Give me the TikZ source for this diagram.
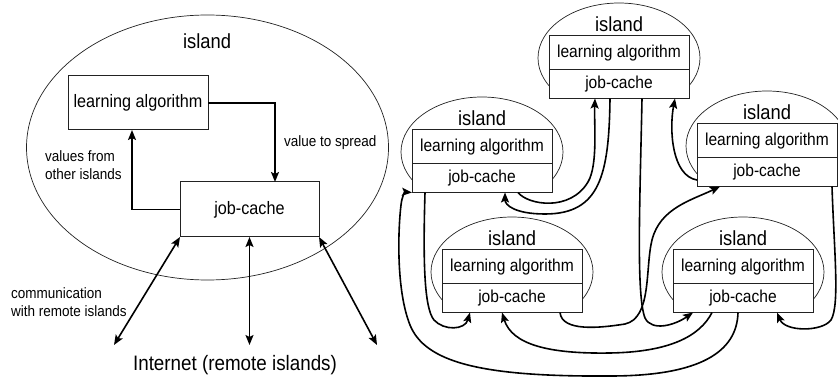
\documentclass[tikz,border=0pt]{standalone}
\usepackage{fontspec}
\setmainfont{Liberation Sans}[FakeStretch=0.9]
\usepackage{tikz}
\usetikzlibrary{positioning,arrows.meta}
\definecolor{ink}{HTML}{222222}

\newcommand{\drawisland}[3]{%
  \begin{scope}
    \clip (#2-95,#3-40) rectangle (#2+95,#3+62.5);
    \draw[rim] (#2,#3+22) ellipse [x radius=81, y radius=55];
  \end{scope}
  \node[part, minimum height=33.5pt, anchor=north] (#1la) at (#2,#3)
    {\fontsize{17.3}{20}\selectfont learning algorithm};
  \node[part, minimum height=29pt, below=0pt of #1la] (#1jc)
    {\fontsize{17.3}{20}\selectfont job-cache};
  \node (#1name) at (#2,#3-12) {\fontsize{20.4}{24}\selectfont island};
}

\begin{document}
\begin{tikzpicture}[x=1pt, y=-1pt,
  >={Stealth[length=10pt, width=8pt, inset=2pt]},
  box/.style={draw=ink, line width=1pt, fill=white, inner sep=0pt, outer sep=0pt},
  part/.style={box, minimum width=140pt},
  rim/.style={draw=ink, line width=0.7pt},
  link/.style={line width=1.6pt, ->},
  both/.style={line width=1.6pt, <->},
  note/.style={align=left, anchor=west, inner sep=0pt, font=\fontsize{15}{18}\selectfont}]
\useasboundingbox (0,0) rectangle (838,382);

\draw[rim] (207.5,147.5) ellipse [x radius=181, y radius=132.5];
\node (bigname) at (207,41) {\fontsize{20.4}{24}\selectfont island};
\node[box, minimum width=140pt, minimum height=54pt] (bigla) at (138,103)
  {\fontsize{18}{21}\selectfont learning algorithm};
\node[box, minimum width=139pt, minimum height=55pt] (bigjc) at (249.5,209.5)
  {\fontsize{18}{21}\selectfont job-cache};
\draw[link] (bigla.east) -| ([xshift=25.5pt]bigjc.north);
\node[note] (spread) at (284,143) {value to spread};
\draw[link] (bigjc.west) -| ([xshift=-6pt]bigla.south);
\node[note] (others) at (45,165) {values from\\other islands};
\coordinate (netl) at (114,345);
\coordinate (netm) at (249.5,345);
\coordinate (netr) at (377,345);
\draw[both] (bigjc.south west) -- (netl);
\draw[both] (bigjc.south) -- (netm);
\draw[both] (bigjc.south east) -- (netr);
\node[note] (comm) at (11,302) {communication\\with remote islands};
\node (net) at (235,365) {\fontsize{20.9}{24}\selectfont Internet (remote islands)};

\drawisland{top}{619}{36}
\drawisland{left}{482}{130}
\drawisland{right}{767}{124}
\drawisland{botl}{512}{250}
\drawisland{botr}{743}{250}

\draw[link] ([xshift=-9pt]topjc.south) .. controls (609,175) and (600,214) .. (545,214)
  .. controls (515,214) and (505,205) .. ([xshift=23pt]leftjc.south);
\draw[link] ([xshift=36pt]leftjc.south) .. controls (528,205) and (570,212) .. (588,182)
  .. controls (598,165) and (594,125) .. ([xshift=-24pt]topjc.south);
\draw[link] ([xshift=23pt]topjc.south) .. controls (640,200) and (636,295) .. (645,318)
  .. controls (652,332) and (675,325) .. ([xshift=-50pt]botrjc.south);
\draw[link] ([yshift=-8pt]rightjc.west) .. controls (672,176) and (669,130) .. ([xshift=56pt]topjc.south);
\draw[link] ([xshift=48pt]botljc.south) .. controls (562,332) and (600,328) .. (625,324)
  .. controls (652,318) and (645,268) .. (652,240)
  .. controls (660,208) and (692,200) .. ([xshift=-47pt]rightjc.south);
\draw[link] ([xshift=-5pt]botrjc.south) .. controls (737,352) and (700,376) .. (610,376)
  .. controls (480,377) and (425,362) .. (410,325)
  .. controls (396,290) and (398,230) .. (401,205)
  .. controls (402,196) and (405,192) .. (leftjc.south west);
\draw[link] ([xshift=-57pt]leftjc.south) .. controls (423,260) and (424,308) .. (434,320)
  .. controls (444,331) and (465,330) .. ([xshift=-42pt]botljc.south);
\draw[link] ([xshift=-31pt]botrjc.south) .. controls (700,336) and (670,352) .. (610,353)
  .. controls (550,354) and (512,345) .. ([xshift=-10pt]botljc.south);
\draw[link] ([xshift=65pt]rightjc.south) .. controls (834,250) and (840,305) .. (831,320)
  .. controls (822,332) and (785,332) .. ([xshift=34pt]botrjc.south);
\end{tikzpicture}
\end{document}
